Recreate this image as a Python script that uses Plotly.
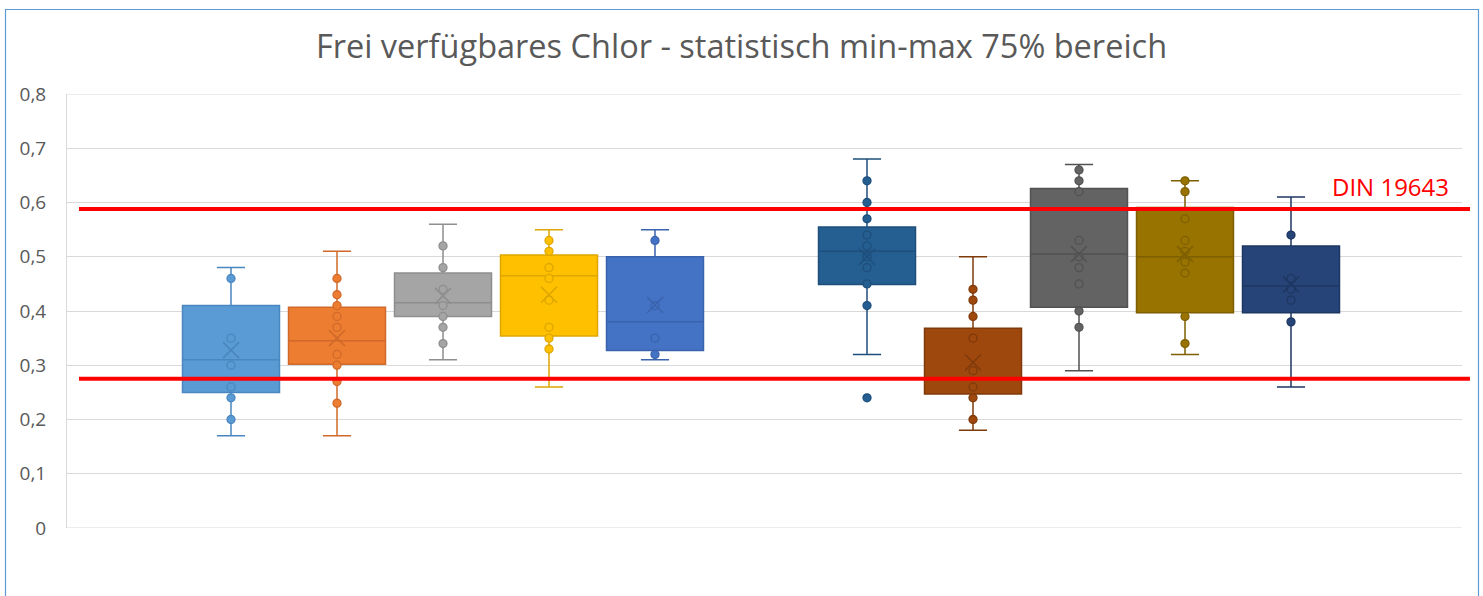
import plotly.graph_objects as go

# ---- data ----
positions = [0, 1, 2, 3, 4, 6, 7, 8, 9, 10]
q1 = [0.25, 0.302, 0.39, 0.354, 0.327, 0.449, 0.247, 0.407, 0.397, 0.397]
median = [0.31, 0.345, 0.415, 0.465, 0.38, 0.51, 0.275, 0.505, 0.50, 0.446]
q3 = [0.41, 0.407, 0.47, 0.503, 0.50, 0.555, 0.368, 0.626, 0.591, 0.52]
lower = [0.17, 0.17, 0.31, 0.26, 0.31, 0.32, 0.18, 0.29, 0.32, 0.26]
upper = [0.48, 0.51, 0.56, 0.55, 0.55, 0.68, 0.50, 0.67, 0.64, 0.61]
means = [0.328, 0.35, 0.428, 0.43, 0.411, 0.50, 0.305, 0.505, 0.505, 0.449]
points = [
    [0.46, 0.35, 0.30, 0.26, 0.24, 0.20],
    [0.46, 0.43, 0.41, 0.39, 0.37, 0.32, 0.30, 0.27, 0.23],
    [0.52, 0.48, 0.44, 0.41, 0.39, 0.37, 0.34],
    [0.53, 0.51, 0.48, 0.46, 0.42, 0.37, 0.35, 0.33],
    [0.53, 0.41, 0.35, 0.32],
    [0.64, 0.60, 0.57, 0.54, 0.52, 0.50, 0.48, 0.45, 0.41, 0.24],
    [0.44, 0.42, 0.39, 0.35, 0.29, 0.26, 0.24, 0.20],
    [0.66, 0.64, 0.62, 0.53, 0.50, 0.48, 0.45, 0.40, 0.37],
    [0.64, 0.62, 0.57, 0.53, 0.51, 0.49, 0.47, 0.39, 0.34],
    [0.54, 0.46, 0.44, 0.42, 0.38],
]
din_low = 0.275
din_high = 0.588
y_ticks = [0, 0.1, 0.2, 0.3, 0.4, 0.5, 0.6, 0.7, 0.8]

fills = ["#5B9BD5", "#ED7D31", "#A5A5A5", "#FFC000", "#4472C4",
         "#255E91", "#9E480E", "#636363", "#997300", "#264478"]
edges = ["#4A86BF", "#D0692A", "#8E8E8E", "#DDA600", "#3A63AE",
         "#1E4F7C", "#7F3A0B", "#525252", "#7E5F00", "#1E3762"]

W, H = 1483, 596
L, R, T, B = 67, 1462, 94, 528

fig = go.Figure()
for i, p in enumerate(positions):
    fig.add_trace(go.Box(
        x=[p], q1=[q1[i]], median=[median[i]], q3=[q3[i]],
        lowerfence=[lower[i]], upperfence=[upper[i]],
        width=0.915, whiskerwidth=0.29,
        fillcolor=fills[i], line=dict(color=edges[i], width=1.5),
        boxpoints=False, showlegend=False, hoverinfo="skip"))
    fig.add_trace(go.Scatter(
        x=[p] * len(points[i]), y=points[i], mode="markers",
        marker=dict(size=8, color=fills[i], line=dict(color=edges[i], width=1.3)),
        showlegend=False, hoverinfo="skip"))
    fig.add_trace(go.Scatter(
        x=[p], y=[means[i]], mode="markers",
        marker=dict(size=16, symbol="x-thin-open", color=edges[i],
                    line=dict(color=edges[i], width=1.6)),
        showlegend=False, hoverinfo="skip"))

unit = 106.0
x0 = -(231 - L) / unit
x1 = x0 + (R - L) / unit

def px_x(v):
    return (v - L) / (R - L)

def px_y(v):
    return (B - v) / (B - T)

# gridlines at the range edges (plotly hides them)
for yv in (y_ticks[0], y_ticks[-1]):
    fig.add_shape(type="line", xref="paper", yref="y", x0=0, x1=1, y0=yv, y1=yv,
                  line=dict(color="#D9D9D9", width=1), layer="below")

for yv in (din_high, din_low):
    fig.add_shape(type="line", xref="paper", yref="y",
                  x0=px_x(79), x1=px_x(1470), y0=yv, y1=yv,
                  line=dict(color="#FF0000", width=4), layer="above")

# chart border
fig.add_shape(type="rect", xref="paper", yref="paper",
              x0=px_x(5.5), x1=px_x(1478.5), y0=px_y(640), y1=px_y(9.5),
              line=dict(color="#5B9BD5", width=1.2), layer="below")

fig.add_annotation(text="DIN 19643", xref="paper", yref="y",
                   x=px_x(1451), y=din_high, xanchor="right", yanchor="bottom",
                   yshift=4, showarrow=False,
                   font=dict(family="Open Sans", size=24, color="#FF0000"))

fig.update_layout(
    width=W, height=H,
    margin=dict(l=L, r=W - R, t=T, b=H - B, pad=0),
    paper_bgcolor="white", plot_bgcolor="white",
    boxmode="overlay", separators=",.",
    title=dict(text="Frei verfügbares Chlor - statistisch min-max 75% bereich",
               x=0.5, xanchor="center", y=1 - 47 / H, yanchor="middle",
               font=dict(family="Open Sans", size=32.5, color="#595959")),
    xaxis=dict(range=[x0, x1], showticklabels=False, showgrid=False,
               zeroline=False, showline=False, ticks=""),
    yaxis=dict(range=[0, 0.8], tickvals=y_ticks, showgrid=True,
               gridcolor="#D9D9D9", gridwidth=1, zeroline=False,
               showline=True, linecolor="#D9D9D9", linewidth=1,
               ticks="", ticklabelstandoff=16,
               tickfont=dict(family="Open Sans", size=19, color="#595959")),
    font=dict(family="Open Sans"),
)

fig.write_html("out.html", config={"displayModeBar": False},
               post_script="document.body.style.margin='0';")
